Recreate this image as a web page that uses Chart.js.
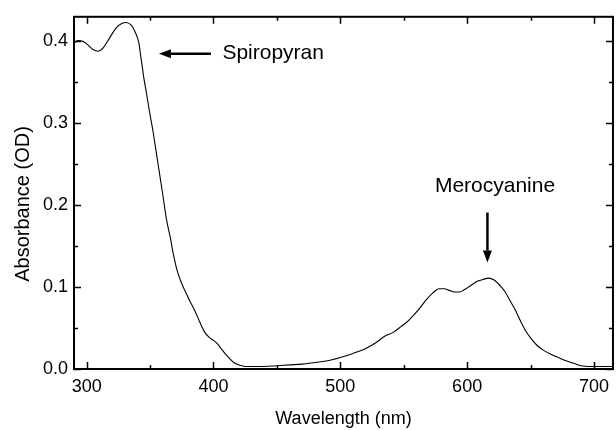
<!DOCTYPE html>
<html>
<head>
<meta charset="utf-8">
<script src="https://cdn.jsdelivr.net/npm/chart.js@4/dist/chart.umd.min.js"></script>
<style>
  html, body { margin: 0; padding: 0; background: #fff; }
  #wrap { width: 616px; height: 430px; }
</style>
</head>
<body>
<div id="wrap"><canvas id="spectrum" width="616" height="430"></canvas></div>
<script>
// wavelength (nm) and absorbance (OD)
const wavelengths = [
  290, 293, 297, 300, 305, 309, 313, 318, 323, 328, 331, 335, 338, 341, 343, 345,
  347, 350, 352, 356, 360, 363, 366, 368, 371, 375, 378, 381, 385, 389, 393, 397,
  400, 403, 406, 409, 412, 416, 420, 425, 430, 440, 450, 460, 470, 480, 490, 500,
  510, 520, 528, 535, 542, 548, 553, 558, 563, 568, 573, 578, 582, 586, 590, 594,
  598, 603, 608, 612, 617, 621, 624, 627, 630, 634, 638, 642, 646, 650, 655, 660,
  666, 672, 678, 684, 690, 696, 702, 708, 715
];
const absorbance = [
  0.398, 0.401, 0.400, 0.397, 0.390, 0.388, 0.392, 0.404, 0.416, 0.422, 0.423, 0.420, 0.412, 0.399, 0.378, 0.356,
  0.338, 0.310, 0.293, 0.253, 0.213, 0.182, 0.160, 0.143, 0.122, 0.104, 0.094, 0.084, 0.072, 0.058, 0.045, 0.038,
  0.035, 0.031, 0.025, 0.019, 0.014, 0.008, 0.005, 0.003, 0.003, 0.003, 0.004, 0.005, 0.006, 0.008, 0.010, 0.014,
  0.019, 0.025, 0.032, 0.040, 0.045, 0.052, 0.058, 0.066, 0.075, 0.085, 0.093, 0.098, 0.098, 0.096, 0.094, 0.094,
  0.097, 0.102, 0.107, 0.109, 0.111, 0.109, 0.105, 0.100, 0.094, 0.083, 0.072, 0.059, 0.047, 0.038, 0.029, 0.023,
  0.018, 0.014, 0.010, 0.007, 0.004, 0.003, 0.003, 0.003, 0.003
];

const xTicks = [300, 400, 500, 600, 700];
const xMinorTicks = [350, 450, 550, 650];
const yTicks = [0.0, 0.1, 0.2, 0.3, 0.4];
const yMinorTicks = [0.05, 0.15, 0.25, 0.35];

// labels with arrows, in data units
const spiroLabel = { text: 'Spiropyran', arrowFrom: 398, arrowTo: 357, y: 0.385, textX: 407 };
const meroLabel = { text: 'Merocyanine', x: 616, arrowFrom: 0.191, arrowTo: 0.130, textX: 622, textY: 0.223 };
const yTitle = 'Absorbance (OD)';

const FONT = 'Liberation Sans, Arial, sans-serif';

function arrow(ctx, x1, y1, x2, y2) {
  const ang = Math.atan2(y2 - y1, x2 - x1);
  const head = 12, half = 4.5;
  const bx = x2 - head * Math.cos(ang), by = y2 - head * Math.sin(ang);
  ctx.beginPath();
  ctx.moveTo(x1, y1);
  ctx.lineTo(bx, by);
  ctx.lineWidth = 2.5;
  ctx.stroke();
  ctx.beginPath();
  ctx.moveTo(x2, y2);
  ctx.lineTo(bx + half * Math.sin(ang), by - half * Math.cos(ang));
  ctx.lineTo(bx - half * Math.sin(ang), by + half * Math.cos(ang));
  ctx.closePath();
  ctx.fill();
}

// frame, inward ticks on all four sides, y title and the two labels
const framePlugin = {
  id: 'frame',
  afterDraw(chart) {
    const ctx = chart.ctx;
    const a = chart.chartArea;
    const xs = chart.scales.x, ys = chart.scales.y;
    ctx.save();
    ctx.strokeStyle = '#000';
    ctx.fillStyle = '#000';
    ctx.lineWidth = 2;
    ctx.strokeRect(a.left, a.top, a.right - a.left, a.bottom - a.top);

    ctx.lineWidth = 1.5;
    const tickX = (v, len) => {
      const px = Math.round(xs.getPixelForValue(v)) + 0.5;
      ctx.beginPath();
      ctx.moveTo(px, a.bottom); ctx.lineTo(px, a.bottom - len);
      ctx.moveTo(px, a.top); ctx.lineTo(px, a.top + len);
      ctx.stroke();
    };
    const tickY = (v, len) => {
      const py = Math.round(ys.getPixelForValue(v)) + 0.5;
      ctx.beginPath();
      ctx.moveTo(a.left, py); ctx.lineTo(a.left + len, py);
      ctx.moveTo(a.right, py); ctx.lineTo(a.right - len, py);
      ctx.stroke();
    };
    xTicks.forEach(v => tickX(v, 7));
    xMinorTicks.forEach(v => tickX(v, 4));
    yTicks.forEach(v => tickY(v, 7));
    yMinorTicks.forEach(v => tickY(v, 4));

    // y axis title, sits a bit below the plot centre in the original
    ctx.save();
    ctx.translate(23, 204);
    ctx.rotate(-Math.PI / 2);
    ctx.font = '20px ' + FONT;
    ctx.textAlign = 'center';
    ctx.textBaseline = 'middle';
    ctx.fillText(yTitle, 0, 0);
    ctx.restore();

    // Spiropyran
    const sy = ys.getPixelForValue(spiroLabel.y);
    arrow(ctx, xs.getPixelForValue(spiroLabel.arrowFrom), sy, xs.getPixelForValue(spiroLabel.arrowTo), sy);
    ctx.font = '21px ' + FONT;
    ctx.textBaseline = 'middle';
    ctx.textAlign = 'left';
    ctx.fillText(spiroLabel.text, xs.getPixelForValue(spiroLabel.textX), sy);

    // Merocyanine
    const mx = xs.getPixelForValue(meroLabel.x);
    arrow(ctx, mx, ys.getPixelForValue(meroLabel.arrowFrom), mx, ys.getPixelForValue(meroLabel.arrowTo));
    ctx.textAlign = 'center';
    ctx.fillText(meroLabel.text, xs.getPixelForValue(meroLabel.textX), ys.getPixelForValue(meroLabel.textY));
    ctx.restore();
  }
};

const points = wavelengths.map((w, i) => ({ x: w, y: absorbance[i] }));

new Chart(document.getElementById('spectrum'), {
  type: 'line',
  data: {
    datasets: [{
      data: points,
      borderColor: '#000',
      borderWidth: 1.1,
      pointRadius: 0,
      cubicInterpolationMode: 'monotone',
      fill: false
    }]
  },
  options: {
    responsive: false,
    animation: false,
    devicePixelRatio: 1,
    layout: { padding: { top: 14, right: 1, left: 0, bottom: 0 } },
    plugins: { legend: { display: false }, tooltip: { enabled: false } },
    scales: {
      x: {
        type: 'linear',
        min: 290,
        max: 715,
        afterBuildTicks: s => { s.ticks = xTicks.map(v => ({ value: v })); },
        afterFit: s => { s.height = 61; },
        grid: { display: false, drawTicks: false, tickLength: 0 },
        border: { display: false },
        ticks: { color: '#000', font: { family: FONT, size: 18 }, padding: 7, maxRotation: 0 },
        title: { display: true, text: 'Wavelength (nm)', color: '#000', font: { family: FONT, size: 18 }, padding: { top: 0, bottom: 0 } }
      },
      y: {
        min: 0,
        max: 0.43,
        afterBuildTicks: s => { s.ticks = yTicks.map(v => ({ value: v })); },
        afterFit: s => { s.width = 74; },
        grid: { display: false, drawTicks: false, tickLength: 0 },
        border: { display: false },
        ticks: { color: '#000', font: { family: FONT, size: 18 }, padding: 6, callback: v => v.toFixed(1) },
        title: { display: false }
      }
    }
  },
  plugins: [framePlugin]
});
</script>
</body>
</html>
